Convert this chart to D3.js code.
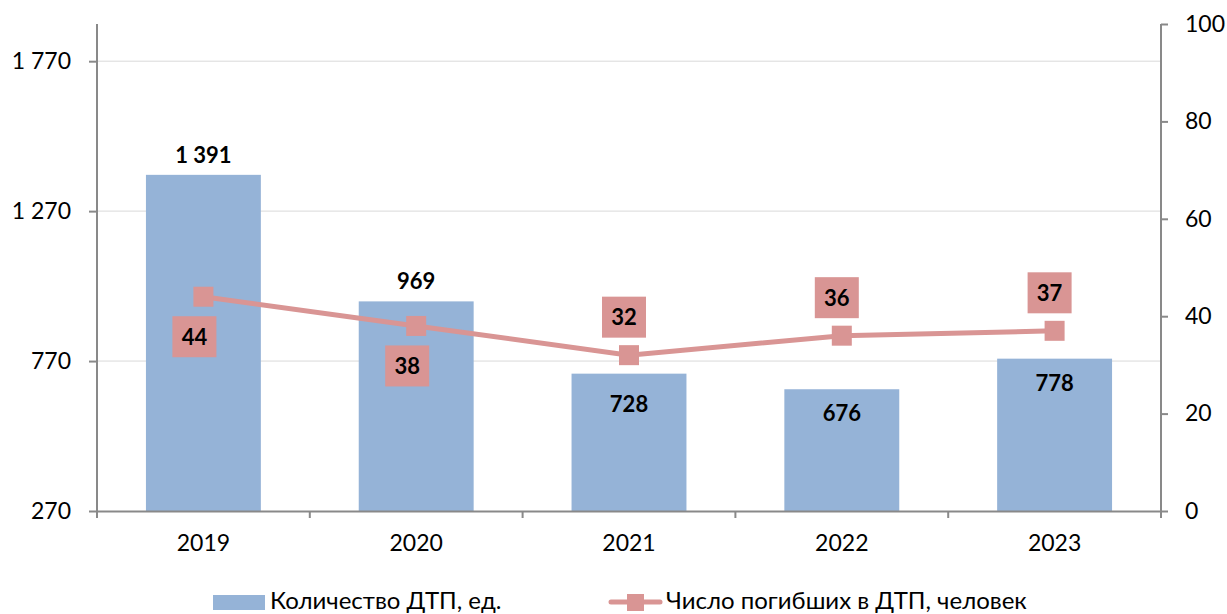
<!DOCTYPE html>
<html>
<head>
<meta charset="utf-8">
<script src="https://cdn.jsdelivr.net/npm/d3@7"></script>
<style>
  body { margin: 0; background: #fff; }
  text { font-family: Lato, "Open Sans", sans-serif; }
</style>
</head>
<body>
<div id="chart"></div>
<script>
// data
const years = ["2019", "2020", "2021", "2022", "2023"];
const accidents = [1391, 969, 728, 676, 778];
const deaths = [44, 38, 32, 36, 37];
const leftTicks = [270, 770, 1270, 1770];
const rightTicks = [0, 20, 40, 60, 80, 100];
const accidentsName = "Количество ДТП, ед.";
const deathsName = "Число погибших в ДТП, человек";
// where each death label sits relative to its marker
const deathLabelPos = ["below", "below", "above", "above", "above"];

const width = 1227;
const height = 614;
const plotLeft = 97;
const plotRight = 1161;
const plotTop = 24;
const plotBottom = 511;

const barColor = "#95b3d7";
const lineColor = "#d99594";
const axisColor = "#898989";

const svg = d3.select("#chart")
  .append("svg")
  .attr("width", width)
  .attr("height", height);

const x = d3.scaleBand()
  .domain(years)
  .range([plotLeft, plotRight])
  .padding(0);

const yLeft = d3.scaleLinear()
  .domain([270, 1894])
  .range([plotBottom, plotTop]);

const yRight = d3.scaleLinear()
  .domain([0, 100])
  .range([plotBottom, plotTop]);

const fmt = d => d3.format(",")(d).replace(/,/g, " ");

// gridlines
svg.append("g")
  .selectAll("line")
  .data(leftTicks.slice(1))
  .enter()
  .append("line")
  .attr("x1", plotLeft)
  .attr("x2", plotRight)
  .attr("y1", d => yLeft(d))
  .attr("y2", d => yLeft(d))
  .attr("stroke", "#d9d9d9")
  .attr("stroke-width", 1);

// bars
const barW = x.bandwidth() * 0.54;
svg.append("g")
  .selectAll("rect")
  .data(accidents)
  .enter()
  .append("rect")
  .attr("x", (d, i) => x(years[i]) + (x.bandwidth() - barW) / 2)
  .attr("y", d => yLeft(d))
  .attr("width", barW)
  .attr("height", d => yLeft(270) - yLeft(d))
  .attr("fill", barColor);

// axes
const axisLeft = svg.append("g")
  .attr("transform", `translate(${plotLeft},0)`)
  .call(d3.axisLeft(yLeft).tickValues(leftTicks).tickFormat(fmt).tickSizeOuter(0).tickSize(8).tickPadding(18));

const axisRight = svg.append("g")
  .attr("transform", `translate(${plotRight},0)`)
  .call(d3.axisRight(yRight).tickValues(rightTicks).tickSizeOuter(0).tickSize(7).tickPadding(17));

const axisBottom = svg.append("g")
  .attr("transform", `translate(0,${plotBottom})`)
  .call(d3.axisBottom(x).tickSize(0).tickPadding(24));

[axisLeft, axisRight, axisBottom].forEach(g => {
  g.select(".domain").attr("stroke", axisColor).attr("stroke-width", 2);
  g.selectAll(".tick line").attr("stroke", axisColor).attr("stroke-width", 2);
  g.selectAll(".tick text")
    .attr("fill", "#000")
    .style("font-size", "23px")
    .style("font-family", "Lato, sans-serif");
});
axisLeft.select(".domain").attr("d", `M0,${plotTop}V${plotBottom + 7}`);
axisRight.select(".domain").attr("d", `M0,${plotTop}V${plotBottom + 7}`);

// category boundary ticks
svg.append("g")
  .selectAll("line")
  .data(years.concat(["end"]))
  .enter()
  .append("line")
  .attr("x1", (d, i) => plotLeft + i * x.bandwidth())
  .attr("x2", (d, i) => plotLeft + i * x.bandwidth())
  .attr("y1", plotBottom)
  .attr("y2", plotBottom + 7)
  .attr("stroke", axisColor)
  .attr("stroke-width", 2);

// bar labels: above tall bars, inside the top of short ones
svg.append("g")
  .selectAll("text")
  .data(accidents)
  .enter()
  .append("text")
  .attr("x", (d, i) => x(years[i]) + x.bandwidth() / 2)
  .attr("y", (d, i) => {
    if (d > 900) return yLeft(d) - 12;
    return yLeft(d) + (i === 2 ? 38 : 32);
  })
  .attr("text-anchor", "middle")
  .style("font-size", "22px")
  .style("font-weight", "bold")
  .text(d => fmt(d));

// line
const line = d3.line()
  .x((d, i) => x(years[i]) + x.bandwidth() / 2)
  .y(d => yRight(d));

svg.append("path")
  .datum(deaths)
  .attr("d", line)
  .attr("fill", "none")
  .attr("stroke", lineColor)
  .attr("stroke-width", 5)
  .attr("stroke-linecap", "round");

const mk = 20;
svg.append("g")
  .selectAll("rect")
  .data(deaths)
  .enter()
  .append("rect")
  .attr("x", (d, i) => x(years[i]) + x.bandwidth() / 2 - mk / 2)
  .attr("y", d => yRight(d) - mk / 2)
  .attr("width", mk)
  .attr("height", mk)
  .attr("fill", lineColor);

// death labels in boxes
const boxW = 44;
const boxH = 41;
const labels = svg.append("g")
  .selectAll("g")
  .data(deaths)
  .enter()
  .append("g")
  .attr("transform", (d, i) => {
    const cx = x(years[i]) + x.bandwidth() / 2 + (deathLabelPos[i] === "below" ? -9 : -5);
    const cy = yRight(d) + (deathLabelPos[i] === "below" ? 40 : -38);
    return `translate(${cx},${cy})`;
  });

labels.append("rect")
  .attr("x", -boxW / 2)
  .attr("y", -boxH / 2)
  .attr("width", boxW)
  .attr("height", boxH)
  .attr("fill", lineColor);

labels.append("text")
  .attr("text-anchor", "middle")
  .attr("dy", "0.36em")
  .style("font-size", "22px")
  .style("font-weight", "bold")
  .text(d => d);

// legend
const legend = svg.append("g");
legend.append("rect")
  .attr("x", 213)
  .attr("y", 595)
  .attr("width", 52)
  .attr("height", 15)
  .attr("fill", barColor);
legend.append("text")
  .attr("x", 270)
  .attr("y", 609)
  .style("font-size", "24px")
  .text(accidentsName);

legend.append("line")
  .attr("x1", 611)
  .attr("x2", 660)
  .attr("y1", 602)
  .attr("y2", 602)
  .attr("stroke", lineColor)
  .attr("stroke-width", 5)
  .attr("stroke-linecap", "round");
legend.append("rect")
  .attr("x", 627)
  .attr("y", 594)
  .attr("width", 17)
  .attr("height", 17)
  .attr("fill", lineColor);
legend.append("text")
  .attr("x", 666)
  .attr("y", 609)
  .style("font-size", "24px")
  .text(deathsName);
</script>
</body>
</html>
